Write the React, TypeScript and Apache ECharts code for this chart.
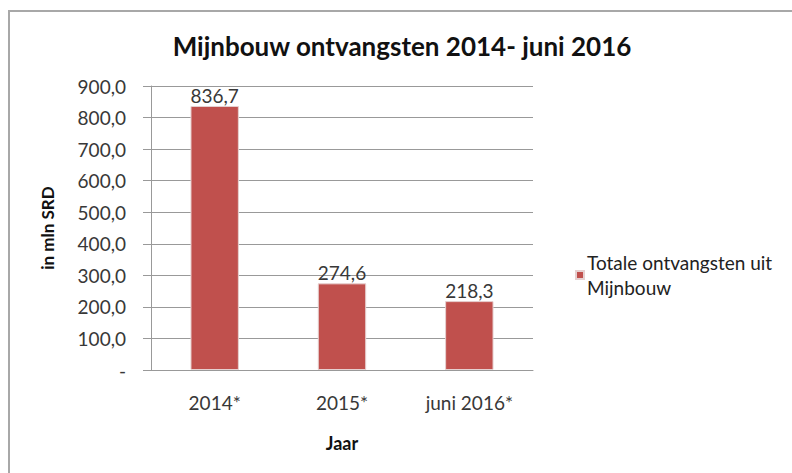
import React, { useEffect, useRef } from "react";
import * as echarts from "echarts";

const categories = ["2014*", "2015*", "juni 2016*"];
const values = [836.7, 274.6, 218.3];
const seriesName = "Totale ontvangsten uit\nMijnbouw";
const titleText = "Mijnbouw ontvangsten 2014- juni 2016";
const yAxisName = "in mln SRD";
const xAxisName = "Jaar";

const FONT = "Lato, 'Open Sans', sans-serif";
const LABEL_COLOR = "#383838";

const fmt = (v: number) => (v === 0 ? "-" : v.toFixed(1).replace(".", ","));

export default function App() {
  const ref = useRef<HTMLDivElement>(null);
  useEffect(() => {
    document.body.style.margin = "0";
    const chart = echarts.init(ref.current!, null, { renderer: "svg" });
    chart.setOption({
      animation: false,
      backgroundColor: "#ffffff",
      textStyle: { fontFamily: FONT },
      title: {
        text: titleText,
        left: 397,
        top: 28,
        textAlign: "center",
        textStyle: { fontFamily: FONT, fontSize: 26, fontWeight: "bold", color: "#111" },
      },
      graphic: [
        {
          type: "rect",
          shape: { x: 9, y: 11, width: 800, height: 480 },
          style: { fill: "none", stroke: "#a8a8a8", lineWidth: 2 },
          silent: true,
        },
      ],
      legend: {
        left: 570,
        top: 245,
        orient: "vertical",
        itemWidth: 8,
        itemHeight: 8,
        icon: "rect",
        itemGap: 6,
        textStyle: { fontFamily: FONT, fontSize: 19, color: "#222", lineHeight: 25, padding: [0, 0, 0, -2] },
        data: [seriesName],
      },
      grid: { left: 151, top: 86, width: 382, height: 284, containLabel: false },
      xAxis: {
        type: "category",
        data: categories,
        name: xAxisName,
        nameLocation: "middle",
        nameGap: 64,
        nameTextStyle: { fontFamily: FONT, fontSize: 18, fontWeight: "bold", color: "#111" },
        axisLine: { lineStyle: { color: "#999", width: 1 } },
        axisTick: { show: false },
        axisLabel: { fontFamily: FONT, fontSize: 19, color: LABEL_COLOR, margin: 23 },
      },
      yAxis: {
        type: "value",
        min: 0,
        max: 900,
        interval: 100,
        name: yAxisName,
        nameLocation: "middle",
        nameGap: 95,
        nameRotate: 90,
        nameTextStyle: { fontFamily: FONT, fontSize: 17, fontWeight: "bold", color: "#111" },
        axisLine: { show: true, lineStyle: { color: "#999", width: 1 } },
        axisTick: { show: true, length: 8, inside: false, lineStyle: { color: "#999" } },
        splitLine: { show: true, lineStyle: { color: "#999", width: 1 } },
        axisLabel: {
          fontFamily: FONT,
          fontSize: 19,
          color: LABEL_COLOR,
          margin: 25,
          formatter: (v: number) => fmt(v),
        },
      },
      series: [
        {
          name: seriesName,
          type: "bar",
          data: values,
          barWidth: "38%",
          itemStyle: { color: "#C0504D", borderColor: "#e6d0d0", borderWidth: 1 },
          label: {
            show: true,
            position: "top",
            distance: 1,
            fontFamily: FONT,
            fontSize: 19,
            color: LABEL_COLOR,
            formatter: (p: any) => fmt(p.value),
          },
        },
      ],
    });
    return () => chart.dispose();
  }, []);
  return <div ref={ref} style={{ width: 792, height: 473 }} />;
}
